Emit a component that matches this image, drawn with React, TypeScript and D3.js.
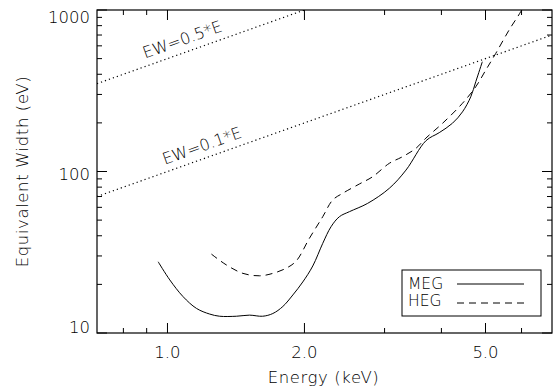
import { useEffect, useRef } from 'react';
import * as d3 from 'd3';

// MEG (solid) equivalent width, energy in keV / EW in eV
const megEnergy = [0.954, 1.012, 1.082, 1.158, 1.238, 1.302, 1.417, 1.515, 1.618, 1.704, 1.793, 1.886, 1.983, 2.086, 2.194, 2.288, 2.387, 2.511, 2.754, 3.073, 3.343, 3.698, 3.956, 4.23, 4.45, 4.64, 4.76, 4.92];
const megEW = [27.6, 21.3, 16.8, 14.2, 13.1, 12.7, 12.7, 12.9, 12.7, 13.2, 14.6, 17.2, 20.7, 26.0, 35.9, 45.5, 52.5, 56.4, 63.5, 78.7, 102, 155, 174, 199, 234, 290, 360, 478];

// HEG (dashed)
const hegEnergy = [1.249, 1.347, 1.465, 1.594, 1.704, 1.824, 1.918, 2.051, 2.194, 2.307, 2.427, 2.641, 2.824, 3.073, 3.286, 3.516, 3.698, 4.022, 4.45, 4.76, 5.008, 5.267, 5.634, 5.975, 6.05];
const hegEW = [30.8, 26.4, 23.4, 22.6, 23.4, 25.2, 27.9, 38.6, 52.5, 66.6, 73.3, 83.7, 92.8, 112.4, 123.5, 139.2, 161, 198.7, 264.5, 335, 425, 539, 752, 976, 1050];

// EW = k * E reference lines
const refFactors = [0.5, 0.1];
const refLabels = ['EW=0.5*E', 'EW=0.1*E'];
const refLabelEnergy = [0.893, 0.986];
const refLabelEW = [500, 110];

const xMajor = [1, 2, 5];
const xMajorLabels = ['1.0', '2.0', '5.0'];
const xMinor = [0.8, 0.9, 3, 4, 6];
const yMajor = [10, 100, 1000];
const yMajorLabels = ['10', '100', '1000'];
const yLabelShift = [0, 8, 13];

const legendNames = ['MEG', 'HEG'];

const FONT = '"DejaVu Sans", sans-serif';

const App = () => {
    const svgRef = useRef<SVGSVGElement>(null);

    useEffect(() => {
        const svg = d3.select(svgRef.current);
        svg.selectAll('*').remove();

        const left = 97, right = 552, top = 10, bottom = 333;

        const x = d3.scaleLog().domain([0.7, 7.0]).range([left, right]);
        const y = d3.scaleLog().domain([10, 1000]).range([bottom, top]);

        svg.append('defs').append('clipPath').attr('id', 'plot-clip')
            .append('rect')
            .attr('x', left).attr('y', top)
            .attr('width', right - left).attr('height', bottom - top);

        const plot = svg.append('g').attr('clip-path', 'url(#plot-clip)');

        // reference lines
        refFactors.forEach(k => {
            const pts = [0.7, 7.0].map(e => [x(e), y(k * e * 1000)] as [number, number]);
            plot.append('path')
                .attr('d', d3.line()(pts))
                .attr('fill', 'none')
                .attr('stroke', '#000')
                .attr('stroke-width', 1.2)
                .attr('stroke-dasharray', '1.2,3');
        });

        const angle = -Math.atan((y(10) - y(100)) / (x(10) - x(1))) * 180 / Math.PI;
        refLabels.forEach((t, i) => {
            svg.append('text')
                .attr('transform', `translate(${x(refLabelEnergy[i])},${y(refLabelEW[i])}) rotate(${angle})`)
                .attr('font-family', FONT)
                .attr('font-size', 16)
                .attr('font-weight', 200)
                .attr('fill', '#000')
                .text(t);
        });

        const line = d3.line<[number, number]>()
            .x(d => x(d[0]))
            .y(d => y(d[1]))
            .curve(d3.curveCatmullRom.alpha(0.5));

        plot.append('path')
            .attr('d', line(megEnergy.map((e, i) => [e, megEW[i]])))
            .attr('fill', 'none')
            .attr('stroke', '#000')
            .attr('stroke-width', 1);

        plot.append('path')
            .attr('d', line(hegEnergy.map((e, i) => [e, hegEW[i]])))
            .attr('fill', 'none')
            .attr('stroke', '#000')
            .attr('stroke-width', 1)
            .attr('stroke-dasharray', '7,5');

        // frame
        svg.append('rect')
            .attr('x', left).attr('y', top)
            .attr('width', right - left).attr('height', bottom - top)
            .attr('fill', 'none')
            .attr('stroke', '#000')
            .attr('stroke-width', 1.2);

        const ticks = svg.append('g').attr('stroke', '#000').attr('stroke-width', 1);

        // x ticks, bottom and top
        const xTick = (v: number, len: number) => {
            ticks.append('line').attr('x1', x(v)).attr('x2', x(v)).attr('y1', bottom).attr('y2', bottom - len);
            ticks.append('line').attr('x1', x(v)).attr('x2', x(v)).attr('y1', top).attr('y2', top + len);
        };
        xMajor.forEach(v => xTick(v, 10));
        xMinor.forEach(v => xTick(v, 5));

        // y ticks, left and right
        const yMinor: number[] = [];
        [10, 100].forEach(d => d3.range(2, 10).forEach(m => yMinor.push(d * m)));
        const yTick = (v: number, len: number) => {
            ticks.append('line').attr('y1', y(v)).attr('y2', y(v)).attr('x1', left).attr('x2', left + len);
            ticks.append('line').attr('y1', y(v)).attr('y2', y(v)).attr('x1', right).attr('x2', right - len);
        };
        yMajor.forEach(v => yTick(v, 10));
        yMinor.forEach(v => yTick(v, 5));

        const label = (sel: any) => sel
            .attr('font-family', FONT)
            .attr('font-size', 16.5)
            .attr('font-weight', 200)
            .attr('fill', '#000');

        const xl = svg.append('g').call(label).attr('text-anchor', 'middle');
        xMajor.forEach((v, i) => {
            xl.append('text').attr('x', x(v)).attr('y', 358).text(xMajorLabels[i]);
        });

        const yl = svg.append('g').call(label).attr('text-anchor', 'end');
        yMajor.forEach((v, i) => {
            yl.append('text').attr('x', 90).attr('y', y(v) + yLabelShift[i]).text(yMajorLabels[i]);
        });

        const titles = svg.append('g').call(label).attr('text-anchor', 'middle').attr('letter-spacing', 0.6);
        titles.append('text').attr('x', (left + right) / 2 - 1).attr('y', 383).text('Energy (keV)');
        titles.append('text')
            .attr('transform', `translate(28,${(top + bottom) / 2}) rotate(-90)`)
            .text('Equivalent Width (eV)');

        // legend
        const lg = svg.append('g');
        lg.append('rect')
            .attr('x', 402).attr('y', 270).attr('width', 139).attr('height', 46)
            .attr('fill', '#fff').attr('stroke', '#000').attr('stroke-width', 1);
        legendNames.forEach((n, i) => {
            const yy = 289 + i * 17;
            lg.append('text').call(label)
                .attr('font-size', 15.5)
                .attr('x', 408).attr('y', yy).text(n);
            lg.append('line')
                .attr('x1', 457).attr('x2', 524)
                .attr('y1', yy - 5 + i * 2).attr('y2', yy - 5 + i * 2)
                .attr('stroke', '#000').attr('stroke-width', 1)
                .attr('stroke-dasharray', i === 1 ? '7,5' : null);
        });
    }, []);

    return (
        <svg ref={svgRef} width={553} height={390}
            style={{ position: 'absolute', left: 0, top: 0, background: '#fff' }} />
    );
};

export default App;
